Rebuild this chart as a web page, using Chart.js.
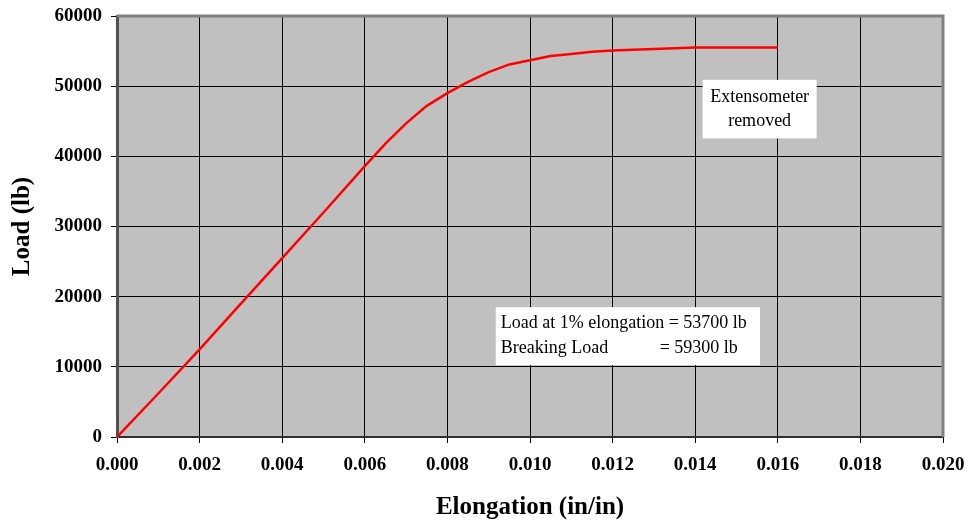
<!DOCTYPE html>
<html>
<head>
<meta charset="utf-8">
<script src="https://cdn.jsdelivr.net/npm/chart.js@4/dist/chart.umd.min.js"></script>
<style>
  html, body { margin: 0; padding: 0; background: #fff; }
  #wrap { width: 972px; height: 527px; }
</style>
</head>
<body>
<div id="wrap"><canvas id="loadChart" width="972" height="527"></canvas></div>
<script>
// elongation (in/in) and load (lb)
const elongation = [0, 0.001, 0.002, 0.003, 0.004, 0.005, 0.006, 0.0065, 0.007, 0.0075, 0.008,
  0.0085, 0.009, 0.0095, 0.010, 0.0105, 0.011, 0.0115, 0.012, 0.013, 0.014, 0.015, 0.016];
const load = [0, 6200, 12500, 19000, 25500, 32000, 38600, 41800, 44700, 47200, 49000,
  50600, 52000, 53100, 53700, 54300, 54600, 54900, 55100, 55300, 55500, 55500, 55500];
const xTicks = [0, 0.002, 0.004, 0.006, 0.008, 0.010, 0.012, 0.014, 0.016, 0.018, 0.020];
const yTicks = [0, 10000, 20000, 30000, 40000, 50000, 60000];

const serif = "'Liberation Serif', 'Times New Roman', serif";

// gray plot background, Excel-like frame and the two text boxes
const plotDecor = {
  id: 'plotDecor',
  beforeDraw(chart) {
    const a = chart.chartArea, c = chart.ctx;
    c.save();
    c.fillStyle = '#c0c0c0';
    c.fillRect(a.left, a.top, a.right - a.left, a.bottom - a.top);
    c.restore();
  },
  afterDraw(chart) {
    const a = chart.chartArea, c = chart.ctx;
    const sx = chart.scales.x, sy = chart.scales.y;
    c.save();
    c.strokeStyle = '#808080';
    c.lineWidth = 3;
    c.beginPath();
    c.moveTo(a.left, a.top);
    c.lineTo(a.right, a.top);
    c.lineTo(a.right, a.bottom);
    c.stroke();

    c.font = '18px ' + serif;
    c.fillStyle = '#000';

    // "Extensometer removed"
    let x0 = sx.getPixelForValue(0.01418), x1 = sx.getPixelForValue(0.01694);
    let y0 = sy.getPixelForValue(50900), y1 = sy.getPixelForValue(42550);
    c.fillStyle = '#fff';
    c.fillRect(x0, y0, x1 - x0, y1 - y0);
    c.fillStyle = '#000';
    c.textAlign = 'center';
    c.textBaseline = 'middle';
    c.fillText('Extensometer', (x0 + x1) / 2, y0 + 17);
    c.fillText('removed', (x0 + x1) / 2, y0 + 41);

    // load summary
    x0 = sx.getPixelForValue(0.00917); x1 = sx.getPixelForValue(0.01557);
    y0 = sy.getPixelForValue(18500); y1 = sy.getPixelForValue(10250);
    c.fillStyle = '#fff';
    c.fillRect(x0, y0, x1 - x0, y1 - y0);
    c.fillStyle = '#000';
    c.textAlign = 'left';
    c.fillText('Load at 1% elongation = 53700 lb', x0 + 5, y0 + 16);
    c.fillText('Breaking Load', x0 + 5, y0 + 41);
    c.fillText('= 59300 lb', x0 + 164, y0 + 41);
    c.restore();
  }
};

const ctx = document.getElementById('loadChart').getContext('2d');
new Chart(ctx, {
  type: 'scatter',
  data: {
    datasets: [{
      data: elongation.map((e, i) => ({ x: e, y: load[i] })),
      showLine: true,
      borderColor: '#ff0000',
      borderWidth: 2.5,
      pointRadius: 0,
      tension: 0
    }]
  },
  options: {
    responsive: false,
    animation: false,
    layout: { padding: { left: 0, top: 16, right: 29, bottom: 0 } },
    plugins: { legend: { display: false }, tooltip: { enabled: false } },
    scales: {
      x: {
        type: 'linear',
        min: 0,
        max: 0.02,
        afterBuildTicks(scale) { scale.ticks = xTicks.map(v => ({ value: v })); },
        afterFit(scale) {
          scale.height = 90;
          scale.paddingLeft = 0;
          scale.paddingRight = 0;
        },
        ticks: {
          callback: v => v.toFixed(3),
          color: '#000',
          padding: 11,
          maxRotation: 0,
          font: { family: serif, size: 19, weight: 'bold' }
        },
        grid: { color: '#000', lineWidth: 1, tickLength: 6 },
        border: { color: '#303030', width: 2 },
        title: {
          display: true,
          text: 'Elongation (in/in)',
          color: '#000',
          padding: { top: 0, bottom: 4 },
          font: { family: serif, size: 25, weight: 'bold' }
        }
      },
      y: {
        min: 0,
        max: 60000,
        afterBuildTicks(scale) { scale.ticks = yTicks.map(v => ({ value: v })); },
        afterFit(scale) {
          scale.width = 117;
          scale.paddingTop = 0;
          scale.paddingBottom = 0;
        },
        ticks: {
          callback: v => String(v),
          color: '#000',
          padding: 9,
          font: { family: serif, size: 19, weight: 'bold' }
        },
        grid: { color: '#000', lineWidth: 1, tickLength: 6 },
        border: { color: '#505050', width: 3 },
        title: {
          display: true,
          text: 'Load (lb)',
          color: '#000',
          padding: { top: 8, bottom: 0 },
          font: { family: serif, size: 25, weight: 'bold' }
        }
      }
    }
  },
  plugins: [plotDecor]
});
</script>
</body>
</html>
